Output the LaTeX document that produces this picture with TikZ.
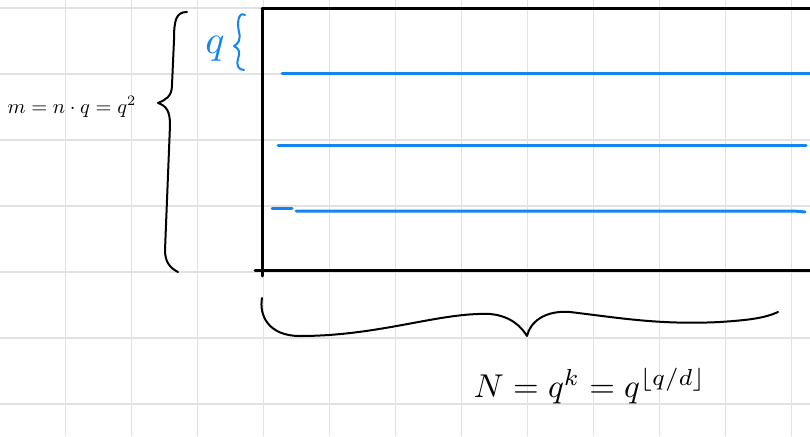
\documentclass[tikz,border=0pt]{standalone}
\usepackage{amsmath}
\definecolor{penblue}{RGB}{20,132,240}
\definecolor{gridgray}{RGB}{226,226,226}
\begin{document}
\begin{tikzpicture}[x=1pt,y=-1pt,
  gridline/.style={draw=gridgray,line width=1.4pt},
  frame/.style={draw=black,line width=3pt,line cap=round},
  blueline/.style={draw=penblue,line width=3pt,line cap=round},
  pen/.style={draw=black,line width=2pt,line cap=round,line join=round},
  bluepen/.style={draw=penblue,line width=2pt,line cap=round,line join=round},
  label/.style={inner sep=0pt,anchor=center}]
\useasboundingbox (0,0) rectangle (810,436);
\fill[white] (0,0) rectangle (810,436);
% grid
\foreach \k in {0,...,11} \draw[gridline] (65.5+66*\k,0) -- (65.5+66*\k,436);
\foreach \k in {0,...,6} \draw[gridline] (0,8+66*\k) -- (810,8+66*\k);
% frame
\draw[frame] (262,9) -- (812,9);
\draw[frame] (262,9) -- (262,276);
\draw[frame] (255,270) -- (812,270);
% blue rows
\draw[blueline] (282,73) -- (812,73);
\draw[blueline] (278,145) -- (806,145);
\draw[blueline] (272,208) -- (292,208);
\draw[blueline] (296,211) -- (794,211) -- (805,212);
% left brace
\draw[pen] (187,12) .. controls (176,12) and (174,20) .. (174,40) -- (172,85)
  .. controls (172,97) and (165,100) .. (158,103)
  .. controls (167,106) and (170,112) .. (170,125) -- (165,250)
  .. controls (165,262) and (170,268) .. (178,272);
% small blue brace
\draw[bluepen] (245,15) .. controls (238,11) and (237,24) .. (239,32)
  .. controls (241,40) and (238,44) .. (234,46)
  .. controls (240,49) and (240,53) .. (238,59)
  .. controls (236,66) and (239,70) .. (244,70);
% bottom brace
\draw[pen] (262,298) .. controls (259,315) and (268,336) .. (300,336)
  .. controls (380,336) and (440,312) .. (490,314)
  .. controls (512,316) and (522,328) .. (527,336)
  .. controls (530,322) and (545,310) .. (570,312)
  .. controls (620,318) and (660,325) .. (720,322)
  .. controls (750,320) and (765,318) .. (778,312);
% labels
\node[label,scale=2.05] (mlabel) at (72,107) {$m = n\cdot q = q^{2}$};
\node[label,scale=4,text=penblue] (qlabel) at (215,49) {$q$};
\node[label,scale=3.3] (nlabel) at (590,386) {$N = q^{k} = q^{\lfloor q/d \rfloor}$};
\end{tikzpicture}
\end{document}
